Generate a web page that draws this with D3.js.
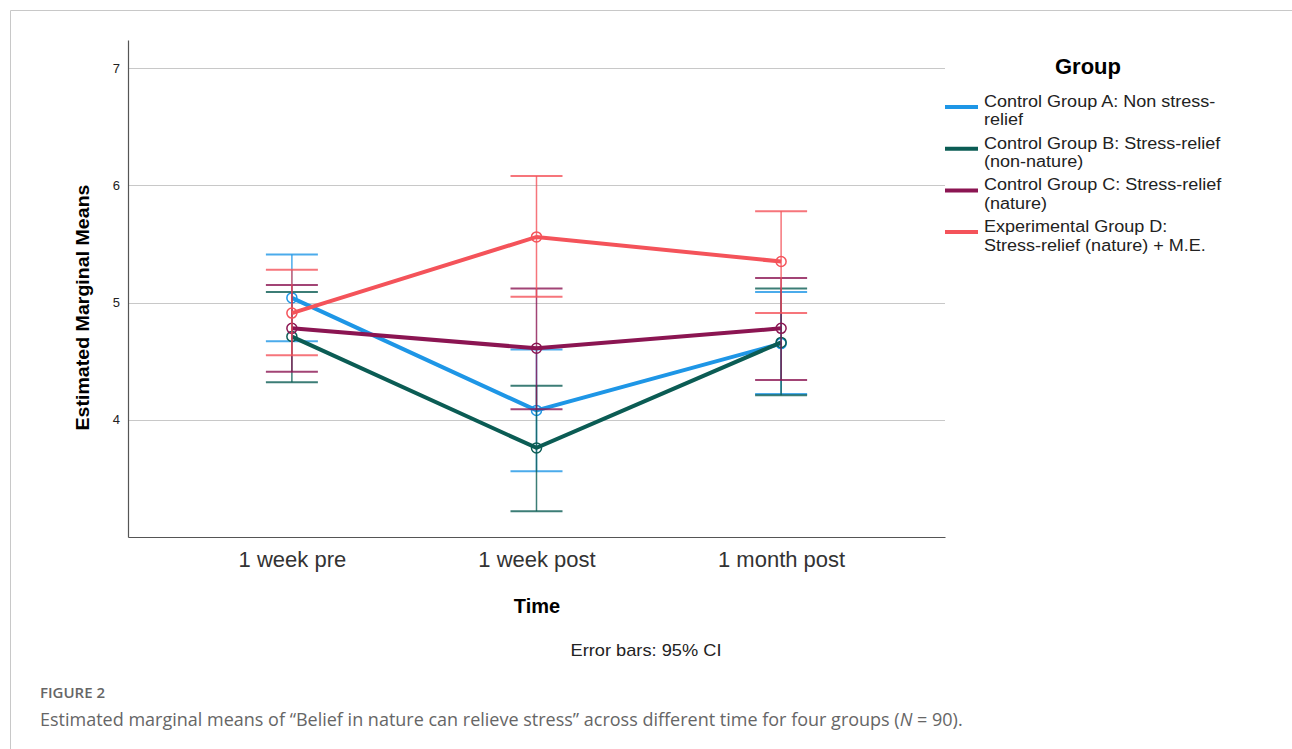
<!DOCTYPE html>
<html>
<head>
<meta charset="utf-8">
<script src="https://cdn.jsdelivr.net/npm/d3@7"></script>
<style>
  body { margin: 0; background: #fff; }
  svg { display: block; }
</style>
</head>
<body>
<div id="chart-container"></div>
<script>
// time points and groups
const times = ["1 week pre", "1 week post", "1 month post"];
const groups = [
    "Control Group A: Non stress-relief",
    "Control Group B: Stress-relief (non-nature)",
    "Control Group C: Stress-relief (nature)",
    "Experimental Group D: Stress-relief (nature) + M.E."
];
// legend text is wrapped the same way SPSS wrapped it
const legendLines = [
    ["Control Group A: Non stress-", "relief"],
    ["Control Group B: Stress-relief", "(non-nature)"],
    ["Control Group C: Stress-relief", "(nature)"],
    ["Experimental Group D:", "Stress-relief (nature) + M.E."]
];
const colors = ["#1e96e6", "#0b5c54", "#8b1552", "#f4535a"];

// estimated marginal means per group, one value per time point
const meansA = [5.04, 4.08, 4.65];
const meansB = [4.71, 3.76, 4.66];
const meansC = [4.78, 4.61, 4.78];
const meansD = [4.91, 5.56, 5.35];

// 95% CI lower / upper bounds
const lowerA = [4.67, 3.56, 4.22];
const upperA = [5.41, 4.60, 5.09];
const lowerB = [4.32, 3.22, 4.21];
const upperB = [5.09, 4.29, 5.12];
const lowerC = [4.41, 4.09, 4.34];
const upperC = [5.15, 5.12, 5.21];
const lowerD = [4.55, 5.05, 4.91];
const upperD = [5.28, 6.08, 5.78];

const yTicks = [4, 5, 6, 7];

const means = [meansA, meansB, meansC, meansD];
const lowers = [lowerA, lowerB, lowerC, lowerD];
const uppers = [upperA, upperB, upperC, upperD];

const W = 1292, H = 749;
const plot = { left: 128, right: 945, top: 40, bottom: 537 };

const svg = d3.select("#chart-container")
    .append("svg")
    .attr("width", W)
    .attr("height", H)
    .style("font-family", "'Liberation Sans', Arial, sans-serif");

// frame of the figure box (only top and left edges are in view)
svg.append("path")
    .attr("d", `M10.5,${H} V10.5 H${W}`)
    .attr("fill", "none")
    .attr("stroke", "#c8c8c8")
    .attr("stroke-width", 1);

const x = d3.scalePoint()
    .domain(times)
    .range([plot.left, plot.right])
    .padding(0.67);

const y = d3.scaleLinear()
    .domain([3, 7.24])
    .range([plot.bottom, plot.top]);

// horizontal gridlines
svg.selectAll(".grid")
    .data(yTicks)
    .join("line")
    .attr("class", "grid")
    .attr("x1", plot.left)
    .attr("x2", plot.right)
    .attr("y1", d => Math.round(y(d)) + 0.5)
    .attr("y2", d => Math.round(y(d)) + 0.5)
    .attr("stroke", "#c8c8c8")
    .attr("stroke-width", 1.2);

// y axis
svg.append("g")
    .attr("transform", `translate(${plot.left},0)`)
    .call(d3.axisLeft(y).tickValues(yTicks).tickFormat(d3.format("d")).tickSize(0).tickPadding(8))
    .call(g => g.select(".domain").attr("stroke", "#555").attr("stroke-width", 1.2))
    .selectAll(".tick text")
    .style("font-size", "13px")
    .style("font-family", "'Liberation Sans', Arial, sans-serif")
    .attr("fill", "#222");

// x axis
svg.append("g")
    .attr("transform", `translate(0,${plot.bottom})`)
    .call(d3.axisBottom(x).tickSize(0).tickPadding(14))
    .call(g => g.select(".domain").attr("stroke", "#555").attr("stroke-width", 1.2))
    .selectAll(".tick text")
    .style("font-size", "22px")
    .style("font-family", "'Liberation Sans', Arial, sans-serif")
    .attr("fill", "#333");

// axis titles
svg.append("text")
    .attr("transform", `translate(89,${(plot.top + plot.bottom) / 2 + 19}) rotate(-90)`)
    .attr("text-anchor", "middle")
    .style("font-size", "19px")
    .style("font-weight", "bold")
    .attr("textLength", 246)
    .attr("lengthAdjust", "spacingAndGlyphs")
    .text("Estimated Marginal Means");

svg.append("text")
    .attr("x", 537)
    .attr("y", 613)
    .attr("text-anchor", "middle")
    .style("font-size", "20px")
    .style("font-weight", "bold")
    .text("Time");

svg.append("text")
    .attr("x", 646)
    .attr("y", 656)
    .attr("text-anchor", "middle")
    .style("font-size", "17px")
    .attr("fill", "#222")
    .attr("textLength", 151)
    .attr("lengthAdjust", "spacingAndGlyphs")
    .text("Error bars: 95% CI");

// error bars, lines and markers for each group
const capHalf = 26;
const line = d3.line()
    .x((d, i) => x(times[i]))
    .y(d => y(d));

groups.forEach((g, gi) => {
    const grp = svg.append("g").attr("class", "group-" + gi);

    times.forEach((t, ti) => {
        const cx = x(t);
        const lo = y(lowers[gi][ti]);
        const hi = y(uppers[gi][ti]);
        grp.append("line")
            .attr("x1", cx).attr("x2", cx)
            .attr("y1", lo).attr("y2", hi)
            .attr("stroke", colors[gi])
            .attr("stroke-opacity", 0.8)
            .attr("stroke-width", 1.5);
        [lo, hi].forEach(yy => {
            grp.append("line")
                .attr("x1", cx - capHalf).attr("x2", cx + capHalf)
                .attr("y1", yy).attr("y2", yy)
                .attr("stroke", colors[gi])
                .attr("stroke-opacity", 0.8)
                .attr("stroke-width", 2);
        });
    });

    grp.append("path")
        .datum(means[gi])
        .attr("fill", "none")
        .attr("stroke", colors[gi])
        .attr("stroke-width", 4)
        .attr("d", line);

    grp.selectAll("circle")
        .data(means[gi])
        .join("circle")
        .attr("cx", (d, i) => x(times[i]))
        .attr("cy", d => y(d))
        .attr("r", 5)
        .attr("fill", "none")
        .attr("stroke", colors[gi])
        .attr("stroke-width", 1.5);
});

// legend
svg.append("text")
    .attr("x", 1088)
    .attr("y", 74)
    .attr("text-anchor", "middle")
    .style("font-size", "22px")
    .style("font-weight", "bold")
    .text("Group");

const legend = svg.append("g");
legendLines.forEach((lines, i) => {
    const base = 107 + i * 41.7;
    legend.append("line")
        .attr("x1", 945).attr("x2", 978)
        .attr("y1", base).attr("y2", base)
        .attr("stroke", colors[i])
        .attr("stroke-width", 4);
    lines.forEach((s, j) => {
        // SPSS legend font is a little wider than Liberation Sans at this height
        legend.append("text")
            .attr("transform", `translate(984,${base + j * 18.4}) scale(1.1,1)`)
            .style("font-size", "16.4px")
            .attr("fill", "#222")
            .text(s);
    });
});

// figure caption
svg.append("text")
    .attr("x", 40)
    .attr("y", 698)
    .style("font-family", "'Open Sans', sans-serif")
    .style("font-size", "15px")
    .style("font-weight", "600")
    .attr("fill", "#666")
    .text("FIGURE 2");

const cap = svg.append("text")
    .attr("x", 40)
    .attr("y", 726)
    .style("font-family", "'Open Sans', sans-serif")
    .style("font-size", "18px")
    .attr("fill", "#666");
cap.append("tspan").text("Estimated marginal means of \u201cBelief in nature can relieve stress\u201d across different time for four groups (");
cap.append("tspan").style("font-style", "italic").text("N");
cap.append("tspan").text(" = 90).");
</script>
</body>
</html>
